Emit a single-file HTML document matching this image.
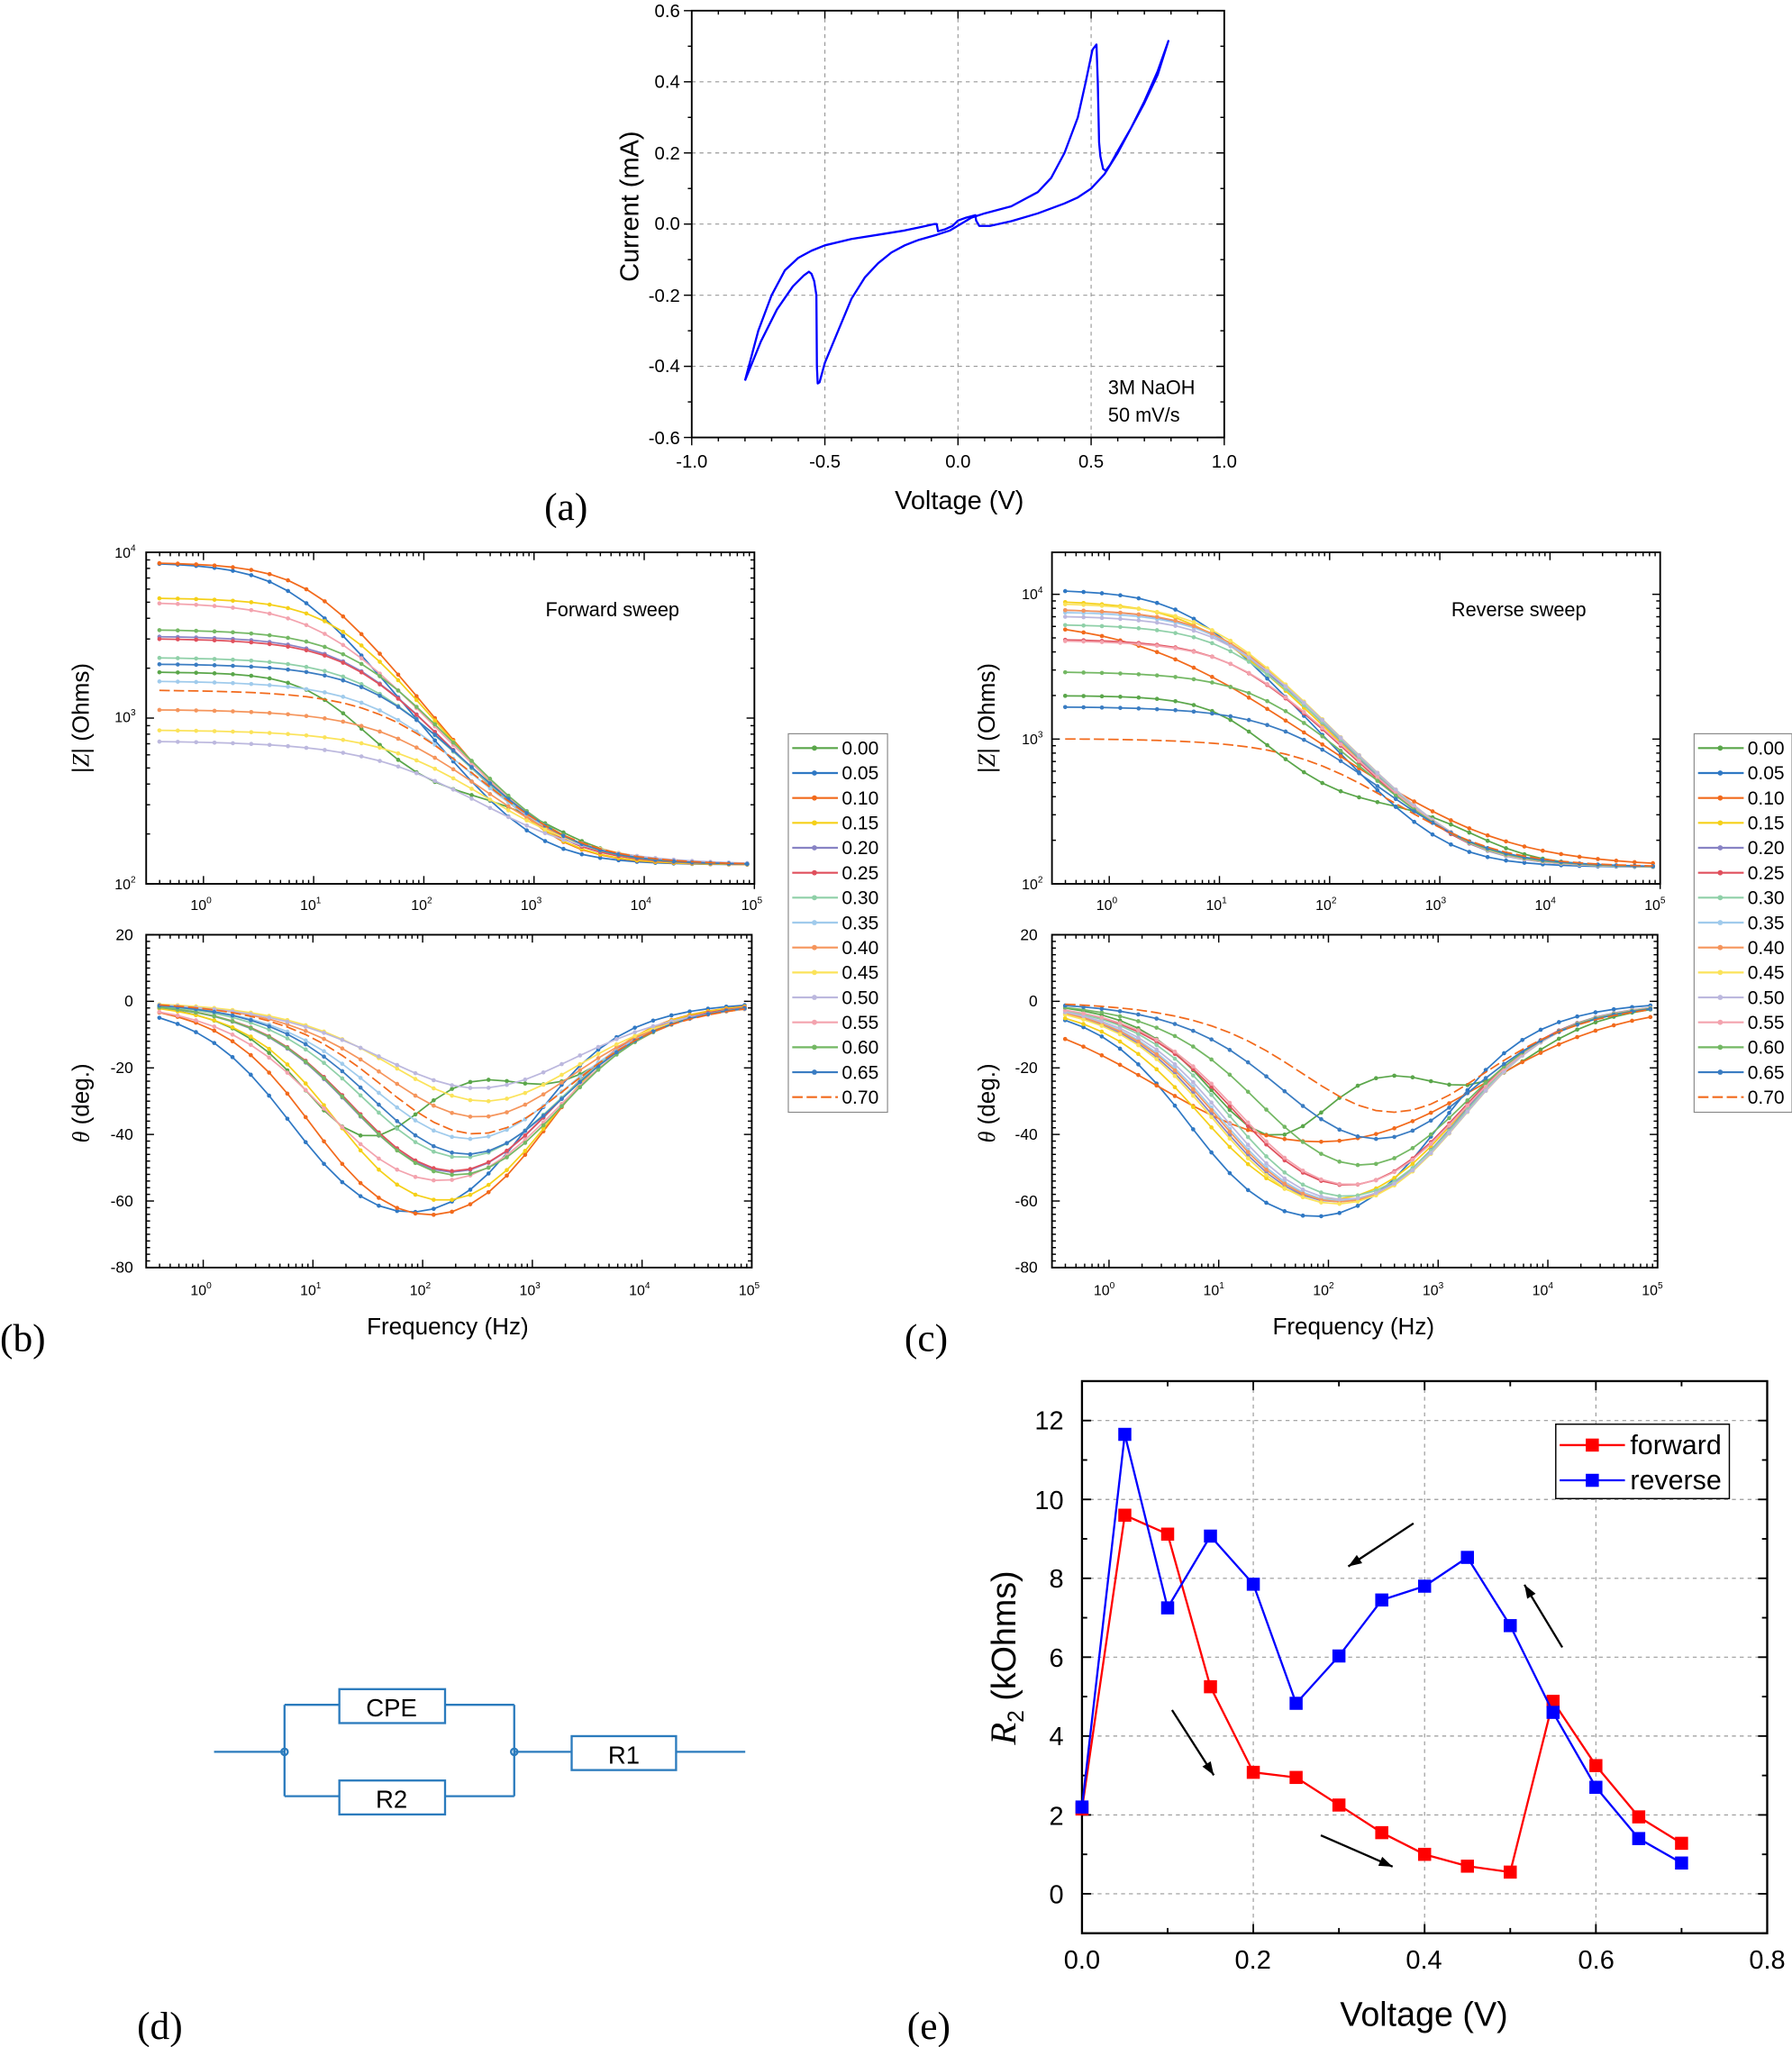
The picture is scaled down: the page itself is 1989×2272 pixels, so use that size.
<!DOCTYPE html>
<html><head><meta charset="utf-8"><style>
html,body{margin:0;padding:0;background:#fff}
svg{display:block}
text{font-family:"Liberation Sans",sans-serif;fill:#000}
.s{font-family:"Liberation Serif",serif}
</style></head><body>
<svg id="s" width="1989" height="2272" viewBox="0 0 1373 1568" xmlns="http://www.w3.org/2000/svg">
<rect width="1373" height="1568" fill="#fff"/>
<g id="g"></g>
<!-- panel a text -->
<g font-size="14" text-anchor="end">
<text x="521" y="13">0.6</text><text x="521" y="67">0.4</text><text x="521" y="122">0.2</text><text x="521" y="176">0.0</text><text x="521" y="231">-0.2</text><text x="521" y="285">-0.4</text><text x="521" y="340">-0.6</text>
</g>
<g font-size="14" text-anchor="middle">
<text x="530" y="358">-1.0</text><text x="632" y="358">-0.5</text><text x="734" y="358">0.0</text><text x="836" y="358">0.5</text><text x="938" y="358">1.0</text>
</g>
<text x="849" y="302" font-size="15">3M NaOH</text><text x="849" y="323" font-size="15">50 mV/s</text>
<text x="735" y="390" font-size="20" text-anchor="middle">Voltage (V)</text>
<text transform="translate(489,158) rotate(-90)" font-size="20" text-anchor="middle">Current (mA)</text>
<text class="s" x="417" y="398" font-size="30">(a)</text>

<!-- panel b text -->
<g font-size="11" text-anchor="end">
<text x="104" y="427">10<tspan dy="-5" font-size="7">4</tspan></text>
<text x="104" y="553">10<tspan dy="-5" font-size="7">3</tspan></text>
<text x="104" y="681">10<tspan dy="-5" font-size="7">2</tspan></text>
<text x="799" y="459">10<tspan dy="-5" font-size="7">4</tspan></text>
<text x="799" y="570">10<tspan dy="-5" font-size="7">3</tspan></text>
<text x="799" y="681">10<tspan dy="-5" font-size="7">2</tspan></text>
</g>
<g font-size="11" text-anchor="middle">
<text x="154" y="697">10<tspan dy="-5" font-size="7">0</tspan></text><text x="238" y="697">10<tspan dy="-5" font-size="7">1</tspan></text><text x="323" y="697">10<tspan dy="-5" font-size="7">2</tspan></text><text x="407" y="697">10<tspan dy="-5" font-size="7">3</tspan></text><text x="491" y="697">10<tspan dy="-5" font-size="7">4</tspan></text><text x="576" y="697">10<tspan dy="-5" font-size="7">5</tspan></text>
<text x="154" y="992">10<tspan dy="-5" font-size="7">0</tspan></text><text x="238" y="992">10<tspan dy="-5" font-size="7">1</tspan></text><text x="322" y="992">10<tspan dy="-5" font-size="7">2</tspan></text><text x="406" y="992">10<tspan dy="-5" font-size="7">3</tspan></text><text x="490" y="992">10<tspan dy="-5" font-size="7">4</tspan></text><text x="574" y="992">10<tspan dy="-5" font-size="7">5</tspan></text>
<text x="848" y="697">10<tspan dy="-5" font-size="7">0</tspan></text><text x="932" y="697">10<tspan dy="-5" font-size="7">1</tspan></text><text x="1016" y="697">10<tspan dy="-5" font-size="7">2</tspan></text><text x="1100" y="697">10<tspan dy="-5" font-size="7">3</tspan></text><text x="1184" y="697">10<tspan dy="-5" font-size="7">4</tspan></text><text x="1268" y="697">10<tspan dy="-5" font-size="7">5</tspan></text>
<text x="846" y="992">10<tspan dy="-5" font-size="7">0</tspan></text><text x="930" y="992">10<tspan dy="-5" font-size="7">1</tspan></text><text x="1014" y="992">10<tspan dy="-5" font-size="7">2</tspan></text><text x="1098" y="992">10<tspan dy="-5" font-size="7">3</tspan></text><text x="1182" y="992">10<tspan dy="-5" font-size="7">4</tspan></text><text x="1266" y="992">10<tspan dy="-5" font-size="7">5</tspan></text>
</g>
<g font-size="12" text-anchor="end">
<text x="102" y="720">20</text><text x="102" y="771">0</text><text x="102" y="822">-20</text><text x="102" y="873">-40</text><text x="102" y="924">-60</text><text x="102" y="975">-80</text>
<text x="795" y="720">20</text><text x="795" y="771">0</text><text x="795" y="822">-20</text><text x="795" y="873">-40</text><text x="795" y="924">-60</text><text x="795" y="975">-80</text>
</g>
<text x="418" y="472" font-size="15">Forward sweep</text>
<text x="1112" y="472" font-size="15">Reverse sweep</text>
<text transform="translate(68,550) rotate(-90)" font-size="18" text-anchor="middle">|<tspan class="s" font-style="italic">Z</tspan>| (Ohms)</text>
<text transform="translate(68,845) rotate(-90)" font-size="18" text-anchor="middle"><tspan class="s" font-style="italic">θ</tspan> (deg.)</text>
<text transform="translate(762,550) rotate(-90)" font-size="18" text-anchor="middle">|<tspan class="s" font-style="italic">Z</tspan>| (Ohms)</text>
<text transform="translate(762,845) rotate(-90)" font-size="18" text-anchor="middle"><tspan class="s" font-style="italic">θ</tspan> (deg.)</text>
<text x="343" y="1022" font-size="18" text-anchor="middle">Frequency (Hz)</text>
<text x="1037" y="1022" font-size="18" text-anchor="middle">Frequency (Hz)</text>
<text class="s" x="0" y="1035" font-size="30">(b)</text>
<text class="s" x="693" y="1035" font-size="30">(c)</text>
<g id="leg"></g>

<!-- panel d -->
<g stroke="#2b7bbd" stroke-width="1.6" fill="none">
<path d="M164 1342H218M218 1306V1376M218 1306H260M341 1306H394M218 1376H260M341 1376H394M394 1306V1376M394 1342H438M518 1342H571"/>
<rect x="260" y="1294" width="81" height="26" fill="#fff"/>
<rect x="260" y="1364" width="81" height="26" fill="#fff"/>
<rect x="438" y="1330" width="80" height="26" fill="#fff"/>
<circle cx="218" cy="1342" r="2.5"/><circle cx="394" cy="1342" r="2.5"/>
</g>
<g font-size="19" text-anchor="middle" style="fill:#2b7bbd">
<text x="300" y="1315" fill="#2b7bbd">CPE</text><text x="300" y="1385" fill="#2b7bbd">R2</text><text x="478" y="1351" fill="#2b7bbd">R1</text>
</g>
<text class="s" x="105" y="1562" font-size="30">(d)</text>

<!-- panel e -->
<g font-size="20" text-anchor="end">
<text x="815" y="1095">12</text><text x="815" y="1156">10</text><text x="815" y="1216">8</text><text x="815" y="1277">6</text><text x="815" y="1337">4</text><text x="815" y="1398">2</text><text x="815" y="1458">0</text>
</g>
<g font-size="20" text-anchor="middle">
<text x="829" y="1508">0.0</text><text x="960" y="1508">0.2</text><text x="1091" y="1508">0.4</text><text x="1223" y="1508">0.6</text><text x="1354" y="1508">0.8</text>
</g>
<text x="1091" y="1552" font-size="26" text-anchor="middle">Voltage (V)</text>
<text transform="translate(778,1270) rotate(-90)" font-size="26" text-anchor="middle"><tspan class="s" font-style="italic" font-size="28">R</tspan><tspan font-size="17" dy="6">2</tspan><tspan dy="-6"> (kOhms)</tspan></text>
<text class="s" x="695" y="1562" font-size="30">(e)</text>
<rect x="1192" y="1091" width="133" height="57" fill="#fff" stroke="#000" stroke-width="1"/>
<line x1="1195" y1="1107" x2="1245" y2="1107" stroke="#f00" stroke-width="1.6"/><rect x="1215" y="1102" width="10" height="10" fill="#f00"/>
<line x1="1195" y1="1134" x2="1245" y2="1134" stroke="#00f" stroke-width="1.6"/><rect x="1215" y="1129" width="10" height="10" fill="#00f"/>
<text x="1249" y="1114" font-size="21">forward</text><text x="1249" y="1141" font-size="21">reverse</text>
</svg>
<script>
var NS="http://www.w3.org/2000/svg",G=document.getElementById('g');
function el(t,a,p){var e=document.createElementNS(NS,t);for(var k in a)e.setAttribute(k,a[k]);(p||G).appendChild(e);return e;}
function line(x1,y1,x2,y2,c,w,d){var a={x1:x1,y1:y1,x2:x2,y2:y2,stroke:c||'#000','stroke-width':w||1};if(d)a['stroke-dasharray']=d;el('line',a);}
function poly(pts,c,w,d){var a={points:pts.map(function(p){return p[0].toFixed(1)+','+p[1].toFixed(1)}).join(' '),fill:'none',stroke:c,'stroke-width':w||1.2,'stroke-linejoin':'round'};if(d)a['stroke-dasharray']=d;el('polyline',a);}
// ---- panel a
(function(){
var X0=530,X1=938,Y0=8,Y1=335;
function mx(v){return X0+(v+1)*(X1-X0)/2} function my(i){return Y0+(0.6-i)*(Y1-Y0)/1.2}
[-0.5,0,0.5].forEach(function(v){line(mx(v),Y0,mx(v),Y1,'#999',0.8,'3,3')});
[0.4,0.2,0,-0.2,-0.4].forEach(function(v){line(X0,my(v),X1,my(v),'#999',0.8,'3,3')});
el('rect',{x:X0,y:Y0,width:X1-X0,height:Y1-Y0,fill:'none',stroke:'#000','stroke-width':1.3});
for(var v=-1;v<=1.001;v+=0.1){var big=Math.abs(Math.round(v*10)%5)==0;var l=big?6:3;line(mx(v),Y1,mx(v),Y1+l);line(mx(v),Y0,mx(v),Y0+l);}
for(var i=-0.6;i<=0.601;i+=0.1){var big=Math.abs(Math.round(i*10)%2)==0;var l=big?6:3;line(X0-l,my(i),X0,my(i));line(X1-l,my(i),X1,my(i));}
var c=[[-0.8,-0.44],[-0.75,-0.3],[-0.7,-0.2],[-0.65,-0.13],[-0.6,-0.095],[-0.55,-0.075],[-0.5,-0.06],[-0.4,-0.042],[-0.3,-0.03],[-0.2,-0.018],[-0.12,-0.005],[-0.09,0.0],[-0.08,0.0],[-0.075,-0.02],[-0.05,-0.015],[-0.02,-0.005],[0,0.01],[0.03,0.018],[0.065,0.025],[0.068,0.01],[0.08,-0.005],[0.12,-0.005],[0.2,0.008],[0.3,0.03],[0.4,0.058],[0.45,0.075],[0.5,0.1],[0.55,0.14],[0.6,0.2],[0.65,0.27],[0.7,0.34],[0.75,0.42],[0.79,0.515],
[0.75,0.43],[0.7,0.345],[0.65,0.27],[0.6,0.205],[0.57,0.165],[0.555,0.15],[0.545,0.155],[0.535,0.19],[0.53,0.23],[0.525,0.4],[0.52,0.505],[0.505,0.49],[0.48,0.4],[0.45,0.3],[0.4,0.2],[0.35,0.13],[0.3,0.09],[0.2,0.05],[0.1,0.03],[0.05,0.018],[0.01,0.0],[-0.03,-0.018],[-0.08,-0.03],[-0.15,-0.045],[-0.2,-0.06],[-0.25,-0.08],[-0.3,-0.11],[-0.35,-0.15],[-0.4,-0.21],[-0.45,-0.3],[-0.5,-0.39],[-0.52,-0.445],[-0.527,-0.448],[-0.53,-0.4],[-0.532,-0.2],[-0.54,-0.16],[-0.55,-0.14],[-0.56,-0.134],[-0.58,-0.145],[-0.62,-0.175],[-0.68,-0.24],[-0.74,-0.33],[-0.8,-0.44]];
poly(c.map(function(p){return[mx(p[0]),my(p[1])]}),'#0000ff',1.6);
})();
// ---- bode
var COL=['#5aa64a','#2f78c4','#f26a1c','#f5d018','#8883c4','#e0505d','#8fd0a8','#a0cbec','#f5955c','#fbe35a','#bcb8de','#f3a3ae','#74b864','#3a7cc2','#f26a1c'];
function k(R,a,K){return [[R,1000*Math.pow(K/R,1/a),a]];}
var F=[[[1570,12,0.92],[200,900,0.85]],k(8600,0.85,120),k(8600,0.86,165),k(5200,0.85,165),k(3000,0.8,160),k(2900,0.8,160),k(2200,0.78,165),k(1550,0.75,160),k(1000,0.72,150),k(720,0.7,140),k(600,0.66,120),k(4900,0.78,175),k(3300,0.8,180),k(2000,0.78,170),k(1350,0.75,165)];
var R=[[[1650,12,0.92],[220,1100,0.85]],k(10700,0.85,130),[[6700,3,0.6]],k(9000,0.8,175),k(7800,0.82,175),k(4800,0.8,170),k(6100,0.82,180),k(7500,0.82,185),k(7800,0.82,185),k(8600,0.82,185),k(7000,0.82,185),k(4700,0.8,175),k(2800,0.78,170),k(1550,0.75,165),k(880,0.72,160)];
function Z(ps,f){var re=130,im=0;ps.forEach(function(p){var a=p[2],m=Math.pow(f/p[1],a),ph=a*Math.PI/2;var dr=1+m*Math.cos(ph),di=m*Math.sin(ph),d=dr*dr+di*di;re+=p[0]*dr/d;im+=-p[0]*di/d;});return[Math.sqrt(re*re+im*im),Math.atan2(im,re)*180/Math.PI];}
function bode(ax,set,leg){
function fx(f,xa,xb){return xa+(Math.log10(f)+ax.lmin)*(xb-xa)/(5+ax.lmin)}
var zy=function(z){return ax.zy0+(ax.ztop-Math.log10(z))*(ax.zy1-ax.zy0)/(ax.ztop-2)};
var py=function(p){return ax.py0+(20-p)*(ax.py1-ax.py0)/100};
el('rect',{x:ax.x0,y:ax.zy0,width:ax.x1-ax.x0,height:ax.zy1-ax.zy0,fill:'none',stroke:'#000','stroke-width':1.3});
el('rect',{x:ax.x0,y:ax.py0,width:ax.px1-ax.x0,height:ax.py1-ax.py0,fill:'none',stroke:'#000','stroke-width':1.3});
for(var d=-1;d<5;d++)for(var kk=1;kk<10;kk++){var f=kk*Math.pow(10,d);if(Math.log10(f)<-ax.lmin)continue;var l=kk==1?6:3;
var x=fx(f,ax.x0,ax.x1);line(x,ax.zy1,x,ax.zy1-l);line(x,ax.zy0,x,ax.zy0+l);
x=fx(f,ax.x0,ax.px1);line(x,ax.py1,x,ax.py1-l);line(x,ax.py0,x,ax.py0+l);}
var x5=fx(1e5,ax.x0,ax.x1);line(x5,ax.zy1,x5,ax.zy1+4);
for(var d=2;d<ax.ztop;d++)for(var kk=1;kk<10;kk++){var z=kk*Math.pow(10,d);if(Math.log10(z)>ax.ztop)continue;var l=kk==1?6:3;line(ax.x0,zy(z),ax.x0+l,zy(z));line(ax.x1-l,zy(z),ax.x1,zy(z));}
for(var p=-80;p<=20;p+=2){var l=p%20==0?6:3;line(ax.x0,py(p),ax.x0+l,py(p));line(ax.px1-l,py(p),ax.px1,py(p));}
set.forEach(function(ps,i){var zp=[],pp=[];for(var lf=-0.4;lf<=5.001;lf+=0.1667){var f=Math.pow(10,lf);var r=Z(ps,f);zp.push([fx(f,ax.x0,ax.x1),zy(r[0])]);pp.push([fx(f,ax.x0,ax.px1),py(r[1])]);}
var dash=i==14?'8,3':null;poly(zp,COL[i],1.2,dash);poly(pp,COL[i],1.2,dash);
if(i!=14){zp.concat(pp).forEach(function(q){el('circle',{cx:q[0],cy:q[1],r:1.6,fill:COL[i]});});}
});
el('rect',{x:leg.x,y:leg.y,width:leg.w,height:290,fill:'#fff',stroke:'#888','stroke-width':0.8});
var labs=['0.00','0.05','0.10','0.15','0.20','0.25','0.30','0.35','0.40','0.45','0.50','0.55','0.60','0.65','0.70'];
labs.forEach(function(s,i){var y=leg.y+11+i*19.1;line(leg.x+3,y,leg.x+38,y,COL[i],1.5,i==14?'8,3':null);if(i!=14)el('circle',{cx:leg.x+20,cy:y,r:2,fill:COL[i]});var t=el('text',{x:leg.x+41,y:y+5,'font-size':14.5});t.textContent=s;});
}
bode({x0:112,x1:578,px1:576,lmin:0.52,zy0:423,zy1:677,ztop:4,py0:716,py1:971},F,{x:604,y:562,w:76});
bode({x0:806,x1:1272,px1:1270,lmin:0.52,zy0:423,zy1:677,ztop:4.29,py0:716,py1:971},R,{x:1298,y:562,w:75});
// ---- panel e
(function(){
var X0=829,X1=1354,Y0=1058,Y1=1481;
function mx(v){return X0+v*(X1-X0)/0.8} function my(r){return Y0+(13-r)*(Y1-Y0)/14}
[0.2,0.4,0.6].forEach(function(v){line(mx(v),Y0,mx(v),Y1,'#999',0.8,'3,3')});
[0,2,4,6,8,10,12].forEach(function(v){line(X0,my(v),X1,my(v),'#999',0.8,'3,3')});
el('rect',{x:X0,y:Y0,width:X1-X0,height:Y1-Y0,fill:'none',stroke:'#000','stroke-width':1.6});
for(var v=0;v<=0.801;v+=0.1){var l=Math.round(v*10)%2==0?7:4;line(mx(v),Y1,mx(v),Y1-l,'#000',1.3);line(mx(v),Y0,mx(v),Y0+l,'#000',1.3);}
for(var r=-1;r<=13;r++){var l=r%2==0?7:4;line(X0,my(r),X0+l,my(r),'#000',1.3);line(X1-l,my(r),X1,my(r),'#000',1.3);}
var fw=[2.15,9.6,9.12,5.25,3.08,2.95,2.25,1.55,1.0,0.7,0.55,4.88,3.25,1.95,1.28];
var rv=[2.2,11.65,7.25,9.07,7.85,4.83,6.03,7.45,7.8,8.53,6.8,4.6,2.7,1.4,0.78];
[[fw,'#f00'],[rv,'#00f']].forEach(function(s){var pts=s[0].map(function(r,i){return[mx(i*0.05),my(r)]});poly(pts,s[1],1.6);pts.forEach(function(q){el('rect',{x:q[0]-5,y:q[1]-5,width:10,height:10,fill:s[1]});});});
[[1083,1167,1033,1200],[1197,1262,1168,1214],[898,1310,930,1360],[1012,1406,1067,1430]].forEach(function(a){line(a[0],a[1],a[2],a[3],'#000',1.6);var ang=Math.atan2(a[3]-a[1],a[2]-a[0]),L=11,w=0.35;el('polygon',{points:[a[2],a[3],a[2]-L*Math.cos(ang-w),a[3]-L*Math.sin(ang-w),a[2]-L*Math.cos(ang+w),a[3]-L*Math.sin(ang+w)].join(','),fill:'#000'});});
})();
</script>
</body></html>
